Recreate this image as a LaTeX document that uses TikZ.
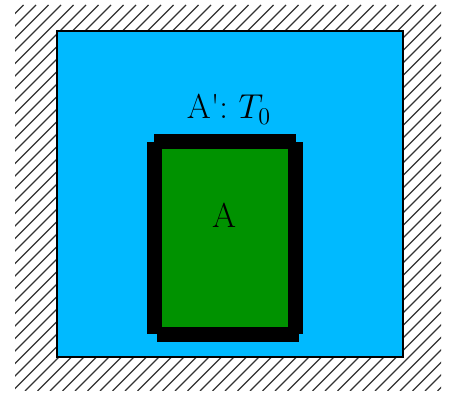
\documentclass[tikz,border=0pt]{standalone}
\usepackage{textcomp}
\usetikzlibrary{positioning}
\definecolor{bathblue}{RGB}{0,186,255}
\definecolor{sysgreen}{RGB}{0,146,0}

\begin{document}
\begin{tikzpicture}[x=0.5pt, y=-0.5pt,
  hatch/.style={line width=0.6pt, black!80},
  wall/.style={fill=black, draw=none},
  lbl/.style={font=\LARGE, inner sep=0pt, anchor=base}
]
\useasboundingbox (0,0) rectangle (450,394);
% surroundings
\begin{scope}
\clip (15,5) rectangle (441,391);
\foreach \c in {-400,-387.5,...,450}
  \draw[hatch] (\c,391) -- ++(386,-386);
\end{scope}
% reservoir
\filldraw[fill=bathblue, draw=black, line width=0.75pt] (57,31) rectangle (403,357);
% system with its walls
\fill[sysgreen] (162,149) rectangle (288,327);
\fill[wall] (154,134) rectangle (296,149);
\fill[wall] (147,142) rectangle (162,334);
\fill[wall] (288,142) rectangle (303,334);
\fill[wall] (157,327) rectangle (299,342);
% labels
\node[lbl] (bathlabel) at (229,119) {A\textquotesingle: $T_0$};
\node[lbl] (syslabel) at (224,228) {A};
\end{tikzpicture}
\end{document}
